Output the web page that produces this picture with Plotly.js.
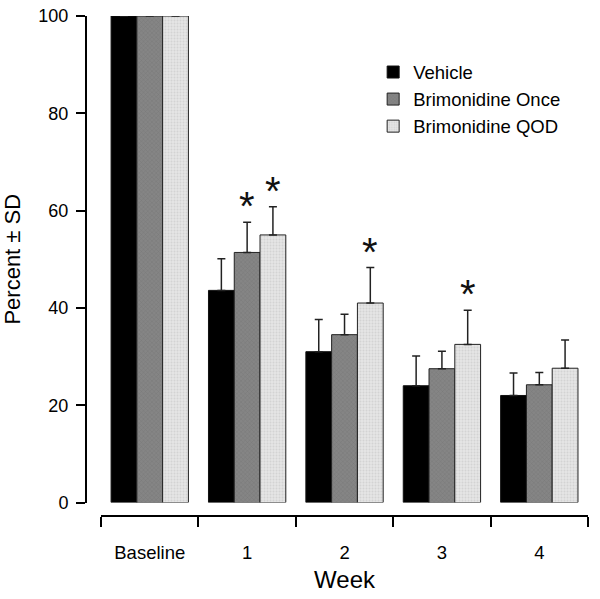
<!DOCTYPE html>
<html>
<head>
<meta charset="utf-8">
<script src="https://cdn.plot.ly/plotly-3.0.1.min.js"></script>
<style>html,body{margin:0;padding:0;background:#fff;}#chart{width:600px;height:599px;}</style>
</head>
<body>
<div id="chart"></div>
<script>
var categories = ["Baseline", "1", "2", "3", "4"];
var seriesNames = ["Vehicle", "Brimonidine Once", "Brimonidine QOD"];
var vehicle = [100, 43.6, 31.0, 24.0, 22.0];
var once = [100, 51.4, 34.5, 27.5, 24.2];
var qod = [100, 55.0, 41.0, 32.5, 27.6];
var vehicleSD = [0, 6.5, 6.6, 6.1, 4.6];
var onceSD = [0, 6.2, 4.2, 3.6, 2.5];
var qodSD = [0, 5.8, 7.3, 7.0, 5.8];
var onceStar = [false, true, false, false, false];
var qodStar = [false, true, true, true, false];
var yTicks = [0, 20, 40, 60, 80, 100];

var FONT = "Liberation Sans, Arial, Helvetica, sans-serif";
var W = 600, H = 599;
var M = {l: 86, r: 12, t: 16, b: 83};
var xDomain = [0.03, 1];
var bargap = 0.206;

function errObj(arr) {
  return {type: "data", symmetric: false, array: arr, arrayminus: arr.map(function(){return 0;}),
          color: "#222", thickness: 1.5, width: 4};
}
function barTrace(name, y, sd, marker) {
  return {type: "bar", name: name, x: categories, y: y, marker: marker, error_y: errObj(sd)};
}

var traces = [
  barTrace(seriesNames[0], vehicle, vehicleSD, {color: "#000", line: {color: "#111", width: 1}}),
  barTrace(seriesNames[1], once, onceSD, {color: "#828282", line: {color: "#222", width: 1},
    pattern: {shape: "x", size: 3, solidity: 0.2, fgcolor: "#737373", bgcolor: "#858585"}}),
  barTrace(seriesNames[2], qod, qodSD, {color: "#e2e2e2", line: {color: "#222", width: 1},
    pattern: {shape: ".", size: 3, solidity: 0.3, fgcolor: "#d2d2d2", bgcolor: "#e6e6e6"}})
];

// bar width in px for star offsets
var plotW = W - M.l - M.r;
var groupW = plotW * (xDomain[1] - xDomain[0]) / categories.length;
var barW = groupW * (1 - bargap) / 3;

var annotations = [];
function addStars(flags, vals, sds, offset) {
  flags.forEach(function(f, i) {
    if (f) annotations.push({x: categories[i], y: vals[i] + sds[i], xref: "x", yref: "y",
      text: "*", showarrow: false, xshift: offset, yanchor: "bottom", yshift: -8,
      font: {family: FONT, size: 40, color: "#111"}});
  });
}
addStars(onceStar, once, onceSD, 0);
addStars(qodStar, qod, qodSD, barW);

var layout = {
  width: W, height: H, margin: M,
  paper_bgcolor: "#fff", plot_bgcolor: "#fff",
  font: {family: FONT, color: "#000"},
  barmode: "group", bargap: bargap, bargroupgap: 0,
  showlegend: true,
  legend: {x: 0.572, y: 0.925, xanchor: "left", yanchor: "top", bgcolor: "rgba(0,0,0,0)",
           font: {family: FONT, size: 18.5, color: "#000"}},
  xaxis: {domain: xDomain, anchor: "free", position: 0, type: "category",
          showline: true, linewidth: 2, linecolor: "#000", showgrid: false, zeroline: false,
          ticks: "outside", tickson: "boundaries", ticklen: 10, tickwidth: 2, tickcolor: "#000",
          tickfont: {family: FONT, size: 18.5, color: "#000"}, ticklabelstandoff: 20,
          title: {text: "Week", font: {family: FONT, size: 24, color: "#000"}, standoff: 8}},
  yaxis: {domain: [0.027, 1], anchor: "free", position: 0, range: [0, 100],
          tickvals: yTicks, showline: true, linewidth: 2, linecolor: "#000",
          showgrid: false, zeroline: false, ticks: "outside", ticklen: 9, tickwidth: 2, tickcolor: "#000",
          tickfont: {family: FONT, size: 18, color: "#000"}, ticklabelstandoff: 4,
          title: {text: "Percent ± SD", font: {family: FONT, size: 22, color: "#000"}, standoff: 14}},
  annotations: annotations
};

Plotly.newPlot("chart", traces, layout, {displayModeBar: false, staticPlot: true});
</script>
</body>
</html>
